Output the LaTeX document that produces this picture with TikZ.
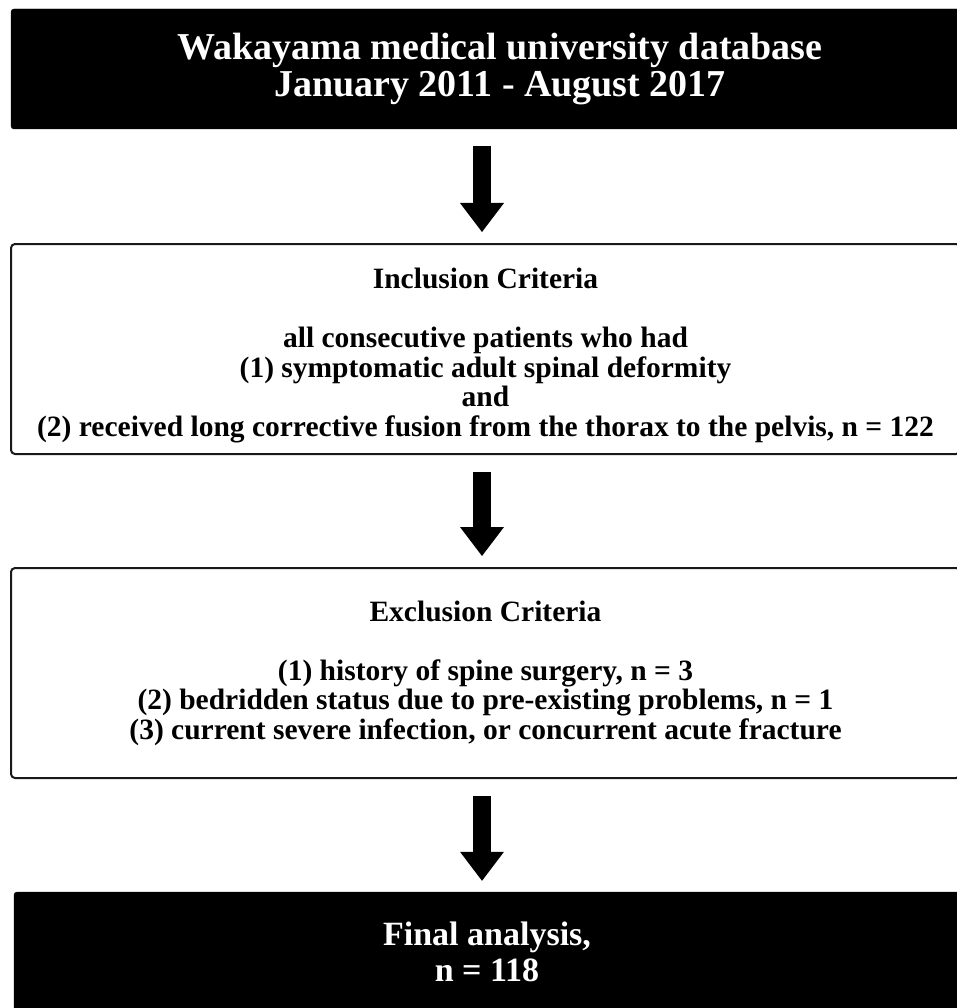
\documentclass[tikz,border=0pt]{standalone}
\usepackage{fontspec}
\setmainfont{Liberation Serif}
\usetikzlibrary{arrows.meta,positioning}

\begin{document}
\begin{tikzpicture}[x=1pt, y=-1pt,
  darkbox/.style={fill=black, draw=black, rounded corners=3pt, text=white, align=center,
    font=\bfseries\fontsize{38}{37}\selectfont},
  critbox/.style={fill=white, draw=black!90, line width=2pt, rounded corners=4pt,
    minimum width=949pt, minimum height=210pt, align=center,
    font=\bfseries\fontsize{29.5}{29.5}\selectfont},
  flowarrow/.style={line width=18pt, -{Triangle[width=44pt, length=29pt, line width=0pt]},
    shorten <=17pt, shorten >=11pt}]
  \useasboundingbox (0,0) rectangle (956,1008);
  % Database
  \node[darkbox, minimum width=978pt, minimum height=120pt] (db) at (500,69)
    {Wakayama medical university database\\January 2011 - August 2017};
  % Inclusion
  \node[critbox] (incl) at (485.5,349)
    {\rule{0pt}{34pt}Inclusion Criteria\\[29.5pt]
     all consecutive patients who had\\
     (1) symptomatic adult spinal deformity\\
     and\\
     (2) received long corrective fusion from the thorax to the pelvis, n = 122};
  % Exclusion
  \node[critbox] (excl) at (485.5,673)
    {Exclusion Criteria\\[29.5pt]
     (1) history of spine surgery, n = 3\\
     (2) bedridden status due to pre-existing problems, n = 1\\
     (3) current severe infection, or concurrent acute fracture};
  % Final
  \node[darkbox, font=\bfseries\fontsize{34}{36}\selectfont, minimum width=946pt, minimum height=120pt] (final) at (487,952)
    {Final analysis,\\n = 118};
  \coordinate (axis) at (482,0);
  \draw[flowarrow] (db.south -| axis) -- (incl.north -| axis);
  \draw[flowarrow] (incl.south -| axis) -- (excl.north -| axis);
  \draw[flowarrow] (excl.south -| axis) -- (final.north -| axis);
\end{tikzpicture}
\end{document}
